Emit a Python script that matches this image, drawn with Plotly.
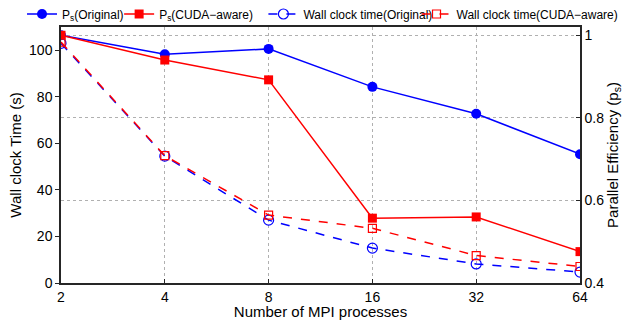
import plotly.graph_objects as go

procs = [2, 4, 8, 16, 32, 64]
ps_original = [1.0, 0.954, 0.967, 0.875, 0.810, 0.712]
ps_cuda = [1.0, 0.940, 0.892, 0.557, 0.560, 0.476]
wall_original = [103.0, 54.5, 27.0, 15.0, 8.2, 4.7]
wall_cuda = [103.5, 54.7, 29.2, 23.5, 11.8, 7.1]
x_ticks = [2, 4, 8, 16, 32, 64]

BLUE = "#0000ff"
RED = "#ff0000"
FONT = "Liberation Sans, Arial, sans-serif"

fig = go.Figure()
fig.add_trace(go.Scatter(x=procs, y=ps_original, yaxis="y2", name="P<sub>s</sub>(Original)",
                         legend="legend",
                         mode="lines+markers", line=dict(color=BLUE, width=1.5),
                         marker=dict(symbol="circle", size=10, color=BLUE)))
fig.add_trace(go.Scatter(x=procs, y=ps_cuda, yaxis="y2", name="P<sub>s</sub>(CUDA\u2212aware)",
                         legend="legend2",
                         mode="lines+markers", line=dict(color=RED, width=1.5),
                         marker=dict(symbol="square", size=9, color=RED)))
fig.add_trace(go.Scatter(x=procs, y=wall_original, name="Wall clock time(Original)",
                         legend="legend3",
                         mode="lines+markers", line=dict(color=BLUE, width=1.5, dash="dash"),
                         marker=dict(symbol="circle-open", size=10, color=BLUE, line=dict(width=1.2))))
fig.add_trace(go.Scatter(x=procs, y=wall_cuda, name="Wall clock time(CUDA\u2212aware)",
                         legend="legend4",
                         mode="lines+markers", line=dict(color=RED, width=1.5, dash="dash"),
                         marker=dict(symbol="square-open", size=8, color=RED, line=dict(width=1.2))))

def leg(xpos):
    return dict(orientation="h", x=xpos, xanchor="left", y=1.0508, yanchor="middle",
                font=dict(size=12), itemwidth=30, bgcolor="rgba(0,0,0,0)", borderwidth=0)

fig.update_layout(
    width=634, height=320,
    margin=dict(l=61, r=54, t=27, b=37, autoexpand=False),
    paper_bgcolor="white", plot_bgcolor="white",
    font=dict(family=FONT, size=14, color="black"),
    showlegend=True,
    legend=leg(-0.0751),
    legend2=leg(0.112),
    legend3=leg(0.39),
    legend4=leg(0.685),
    xaxis=dict(type="log", range=[0.30103, 1.80618], tickvals=x_ticks,
               ticktext=[str(v) for v in x_ticks], showline=True, linecolor="#262626",
               linewidth=1.5, mirror=True, ticks="inside", ticklen=4, tickcolor="#262626",
               showgrid=True, gridcolor="#b0b0b0", griddash="dot", gridwidth=1,
               zeroline=False, automargin=False,
               title=dict(text="Number of MPI processes", standoff=0, font=dict(size=15)),
               tickfont=dict(size=14)),
    yaxis=dict(range=[0, 110], tickvals=[0, 20, 40, 60, 80, 100], showline=True,
               linecolor="#262626", linewidth=1.5, ticks="outside", ticklen=4,
               tickcolor="#262626", showgrid=False, zeroline=False, automargin=False,
               title=dict(text="Wall clock Time (s)", standoff=4, font=dict(size=15)),
               tickfont=dict(size=14)),
    yaxis2=dict(range=[0.4, 1.02], overlaying="y", side="right",
                tickvals=[0.4, 0.6, 0.8, 1.0], ticktext=["0.4", "0.6", "0.8", "1"],
                showline=True, linecolor="#262626", linewidth=1.5, ticks="inside",
                ticklen=4, tickcolor="#262626", showgrid=True, gridcolor="#b0b0b0",
                griddash="dot", gridwidth=1, zeroline=False, automargin=False,
                title=dict(text="Parallel Efficiency (p<sub>s</sub>)", standoff=4,
                           font=dict(size=15)),
                tickfont=dict(size=14)),
)

fig.write_html("out.html")
